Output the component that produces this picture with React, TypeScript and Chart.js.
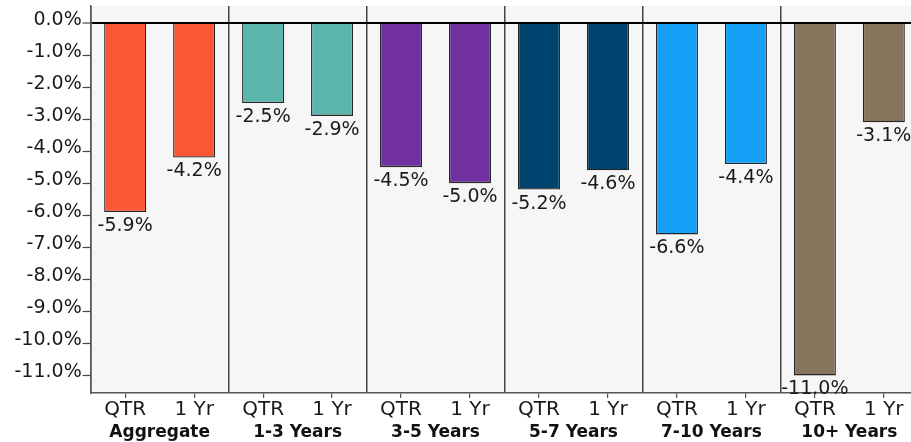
import React, { useEffect, useRef } from 'react';
import { Chart, registerables } from 'chart.js';

Chart.register(...registerables);

const groups = ['Aggregate', '1-3 Years', '3-5 Years', '5-7 Years', '7-10 Years', '10+ Years'];
const periods = ['QTR', '1 Yr'];
const qtrValues = [-5.9, -2.5, -4.5, -5.2, -6.6, -11.0];
const yearValues = [-4.2, -2.9, -5.0, -4.6, -4.4, -3.1];
const groupColors = ['#fa5734', '#5cb6ab', '#7030a0', '#00436f', '#169ff7', '#86745d'];
const yTicks = [0, -1, -2, -3, -4, -5, -6, -7, -8, -9, -10, -11];
const yMin = -11.55;
const yMax = 0.53;

const FONT = "'DejaVu Sans', sans-serif";

export default function App() {
  const ref = useRef<HTMLCanvasElement | null>(null);

  useEffect(() => {
    if (!ref.current) return;
    const labels = groups.flatMap(() => periods);
    const values = groups.flatMap((_, i) => [qtrValues[i], yearValues[i]]);
    const colors = groups.flatMap((_, i) => [groupColors[i], groupColors[i]]);

    const bgPlugin = {
      id: 'plotBg',
      beforeDraw(chart: any) {
        const { ctx, chartArea } = chart;
        ctx.save();
        ctx.fillStyle = '#f6f6f6';
        ctx.fillRect(chartArea.left, chartArea.top, chartArea.right - chartArea.left, chartArea.bottom - chartArea.top);
        ctx.restore();
      },
    };

    const valueLabels = {
      id: 'valueLabels',
      afterDatasetsDraw(chart: any) {
        const { ctx } = chart;
        const meta = chart.getDatasetMeta(0);
        ctx.save();
        ctx.font = `19px ${FONT}`;
        ctx.fillStyle = '#1a1a1a';
        ctx.textAlign = 'center';
        ctx.textBaseline = 'middle';
        meta.data.forEach((el: any, i: number) => {
          const v = chart.data.datasets[0].data[i] as number;
          ctx.fillText(v.toFixed(1) + '%', el.x, el.y + 14);
        });
        ctx.restore();
      },
    };

    const chart = new Chart(ref.current, {
      type: 'bar',
      data: {
        labels,
        datasets: [
          {
            data: values,
            backgroundColor: colors,
            borderColor: '#262626',
            borderWidth: 1.3,
            barPercentage: 0.61,
            categoryPercentage: 1,
            xAxisID: 'x',
            yAxisID: 'y',
          },
        ],
      },
      options: {
        animation: false,
        responsive: false,
        layout: { padding: { top: 6, right: 11.7, left: 0, bottom: 0 } },
        plugins: {
          legend: { display: false },
          tooltip: { enabled: false },
        },
        scales: {
          x: {
            type: 'category',
            position: 'bottom',
            weight: 0,
            offset: true,
            grid: {
              offset: false,
              drawOnChartArea: false,
              drawTicks: true,
              tickLength: 5,
              color: '#555',
              lineWidth: 1.2,
            },
            border: { display: true, color: '#555', width: 1.5 },
            ticks: {
              color: '#1a1a1a',
              font: { family: FONT, size: 20 },
              padding: 0,
              maxRotation: 0,
              autoSkip: false,
            },
            afterFit(scale: any) {
              scale.height = 29;
              scale.paddingLeft = 0;
              scale.paddingRight = 0;
            },
          },
          x2: {
            type: 'category',
            position: 'bottom',
            weight: 1,
            labels: groups,
            offset: true,
            grid: {
              offset: true,
              drawOnChartArea: true,
              drawTicks: false,
              color: '#444',
              lineWidth: 1.5,
            },
            border: { display: false },
            ticks: {
              color: '#111',
              font: { family: FONT, size: 17, weight: 'bold' },
              padding: 0,
              maxRotation: 0,
              autoSkip: false,
            },
            afterFit(scale: any) {
              scale.height = 20;
              scale.paddingLeft = 0;
              scale.paddingRight = 0;
            },
          },
          y: {
            type: 'linear',
            min: yMin,
            max: yMax,
            afterBuildTicks(scale: any) {
              scale.ticks = yTicks.map((v) => ({ value: v }));
            },
            grid: {
              drawOnChartArea: true,
              drawTicks: true,
              tickLength: 8,
              color: (c: any) => (c.tick && c.tick.value === 0 ? '#000' : 'rgba(0,0,0,0)'),
              lineWidth: (c: any) => (c.tick && c.tick.value === 0 ? 2 : 1),
              tickColor: '#444',
              tickWidth: 1.2,
            },
            border: { display: true, color: '#555', width: 1.5 },
            ticks: {
              color: '#1a1a1a',
              font: { family: FONT, size: 19 },
              padding: 1,
              labelOffset: -3,
              callback: (v: any) => Number(v).toFixed(1) + '%',
            },
            afterFit(scale: any) {
              scale.width = 90.7;
              scale.paddingTop = 0;
              scale.paddingBottom = 0;
            },
          },
        },
      } as any,
      plugins: [bgPlugin, valueLabels],
    });

    return () => chart.destroy();
  }, []);

  return (
    <div
      style={{
        position: 'fixed',
        left: 0,
        top: 0,
        width: 911,
        height: 442,
        overflow: 'hidden',
        background: '#fff',
      }}
    >
      <canvas ref={ref} width={930} height={442} style={{ display: 'block', width: 930, height: 442 }} />
    </div>
  );
}
